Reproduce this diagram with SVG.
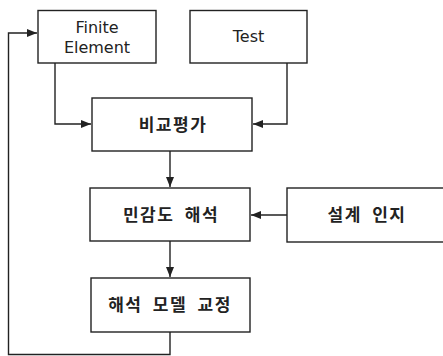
<svg xmlns="http://www.w3.org/2000/svg" width="443" height="356" viewBox="0 0 443 356">
<style>
.box{fill:#fff;stroke:#222;stroke-width:1.4}
.en{font-family:"DejaVu Sans","Liberation Sans",sans-serif;font-size:16px;fill:#222;text-anchor:middle}
.ko{font-family:"Noto Sans CJK KR","Liberation Sans",sans-serif;font-size:17px;font-weight:bold;fill:#222;text-anchor:middle;letter-spacing:1.5px;word-spacing:5px}
.ln{fill:none;stroke:#222;stroke-width:1.4}
</style>
<defs>
<marker id="ah" markerWidth="10" markerHeight="8" refX="10" refY="4" orient="auto" markerUnits="userSpaceOnUse">
<path d="M0,0 L10,4 L0,8 Z" fill="#222"/>
</marker>
</defs>
<g id="connectors">
<path class="ln" d="M55,63 V124 H91" marker-end="url(#ah)"/>
<path class="ln" d="M287,63 V124 H253" marker-end="url(#ah)"/>
<path class="ln" d="M170,151 V187" marker-end="url(#ah)"/>
<path class="ln" d="M287,215 H251" marker-end="url(#ah)"/>
<path class="ln" d="M170,241 V277" marker-end="url(#ah)"/>
<path class="ln" d="M170,332 V354.5 H8.5 V33 H37" marker-end="url(#ah)"/>
</g>
<g id="fe"><rect class="box" x="38" y="10.5" width="118" height="52.5"/>
<text class="en" x="97" y="33">Finite</text><text class="en" x="97" y="53">Element</text></g>
<g id="test"><rect class="box" x="190" y="10.5" width="117" height="52.5"/>
<text class="en" x="248.5" y="42">Test</text></g>
<g id="compare"><rect class="box" x="92" y="98" width="160" height="53"/>
<text class="ko" x="173" y="131">비교평가</text></g>
<g id="sensitivity"><rect class="box" x="90" y="188" width="160" height="53"/>
<text class="ko" x="171" y="221">민감도 해석</text></g>
<g id="design"><rect class="box" x="287" y="188" width="160" height="54"/>
<text class="ko" x="367" y="221">설계 인지</text></g>
<g id="update"><rect class="box" x="91" y="278" width="159" height="54"/>
<text class="ko" x="170" y="311">해석 모델 교정</text></g>
</svg>
